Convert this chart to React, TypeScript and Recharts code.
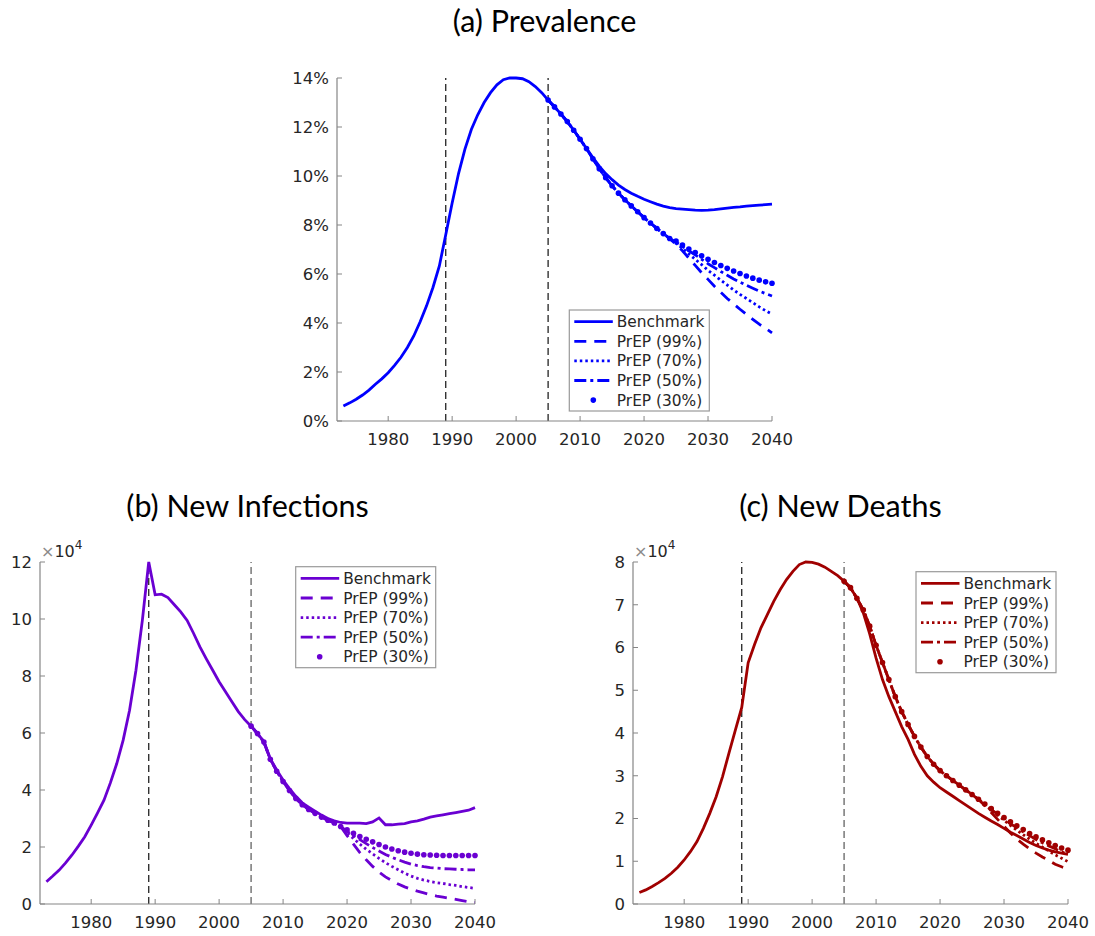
import { LineChart, Line, XAxis, YAxis, ReferenceLine, Customized } from 'recharts'

// one value per year, 1973 ... 2040; PrEP scenarios start in 2005
const FIRST_YEAR = 1973
const PREP_FROM = 2005
const X_TICKS = [1980, 1990, 2000, 2010, 2020, 2030, 2040]
const LEGEND_LABELS = ['Benchmark', 'PrEP (99%)', 'PrEP (70%)', 'PrEP (50%)', 'PrEP (30%)']

// (a) prevalence, %
const PREV_BENCH = [
  0.61, 0.74, 0.89, 1.06, 1.26, 1.5, 1.72, 1.97,
  2.27, 2.6, 3.0, 3.47, 4.05, 4.7, 5.45, 6.33, 7.6, 8.9,
  10.1, 11.1, 11.9, 12.5, 13.0, 13.4, 13.72, 13.93, 14.0, 14.0,
  13.97, 13.85, 13.65, 13.4, 13.1, 12.82, 12.53, 12.22, 11.87, 11.5,
  11.12, 10.75, 10.4, 10.1, 9.85, 9.63, 9.45, 9.3, 9.17, 9.05,
  8.95, 8.85, 8.77, 8.71, 8.67, 8.65, 8.63, 8.61, 8.6, 8.61,
  8.63, 8.66, 8.69, 8.72, 8.74, 8.77, 8.79, 8.81, 8.83, 8.85,
]
const PREV_PREP_SHARED = [ // 2005-2024
  13.1, 12.82, 12.53, 12.22, 11.87, 11.5, 11.12, 10.7, 10.3, 9.93,
  9.6, 9.3, 9.03, 8.78, 8.54, 8.3, 8.08, 7.86, 7.65, 7.45,
]
const PREV_PREP_99 = [...PREV_PREP_SHARED, 7.2, 6.95, 6.65, 6.35, 6.05, 5.78, 5.5, 5.25, 5.0, 4.78, 4.56, 4.35, 4.15, 3.95, 3.78, 3.6]
const PREV_PREP_70 = [...PREV_PREP_SHARED, 7.25, 7.05, 6.82, 6.6, 6.38, 6.15, 5.95, 5.75, 5.55, 5.35, 5.17, 5.0, 4.83, 4.66, 4.5, 4.36]
const PREV_PREP_50 = [...PREV_PREP_SHARED, 7.3, 7.12, 6.95, 6.78, 6.6, 6.42, 6.26, 6.1, 5.95, 5.8, 5.67, 5.54, 5.42, 5.3, 5.2, 5.1]
const PREV_PREP_30 = [...PREV_PREP_SHARED, 7.35, 7.18, 7.02, 6.88, 6.74, 6.6, 6.47, 6.35, 6.23, 6.12, 6.02, 5.92, 5.83, 5.75, 5.68, 5.62]

// (b) new infections, x 10^4
const INF_BENCH = [
  0.78, 0.98, 1.19, 1.44, 1.72, 2.03, 2.36, 2.77,
  3.2, 3.64, 4.25, 4.93, 5.75, 6.8, 8.2, 9.95, 12.0, 10.85,
  10.87, 10.75, 10.5, 10.25, 9.95, 9.5, 9.02, 8.6, 8.2, 7.8,
  7.45, 7.1, 6.75, 6.47, 6.24, 5.98, 5.7, 5.1, 4.7, 4.35,
  4.05, 3.78, 3.55, 3.4, 3.26, 3.12, 3.0, 2.92, 2.86, 2.84,
  2.84, 2.84, 2.82, 2.88, 3.02, 2.78, 2.78, 2.8, 2.82, 2.88,
  2.92, 2.98, 3.05, 3.09, 3.13, 3.17, 3.21, 3.25, 3.29, 3.38,
]
const INF_PREP_SHARED = [ // 2005-2019
  6.24, 5.98, 5.68, 5.08, 4.66, 4.3, 3.98, 3.7, 3.48, 3.32, 3.18, 3.05, 2.94, 2.84, 2.72,
]
const INF_PREP_99 = [...INF_PREP_SHARED, 2.4, 2.1, 1.8, 1.55, 1.32, 1.12, 0.95, 0.82, 0.7, 0.6, 0.52, 0.45, 0.39, 0.33, 0.28, 0.24, 0.2, 0.16, 0.12, 0.08, 0.05]
const INF_PREP_70 = [...INF_PREP_SHARED, 2.5, 2.3, 2.1, 1.92, 1.76, 1.6, 1.45, 1.32, 1.2, 1.08, 0.98, 0.9, 0.84, 0.79, 0.75, 0.72, 0.68, 0.65, 0.61, 0.58, 0.55]
const INF_PREP_50 = [...INF_PREP_SHARED, 2.55, 2.4, 2.26, 2.12, 1.98, 1.86, 1.74, 1.64, 1.55, 1.47, 1.4, 1.35, 1.31, 1.28, 1.26, 1.24, 1.23, 1.22, 1.21, 1.2, 1.2]
const INF_PREP_30 = [...INF_PREP_SHARED, 2.6, 2.48, 2.37, 2.27, 2.18, 2.09, 2.0, 1.93, 1.87, 1.82, 1.78, 1.75, 1.73, 1.72, 1.71, 1.7, 1.7, 1.7, 1.7, 1.7, 1.7]

// (c) new deaths, x 10^4
const DEATH_BENCH = [
  0.27, 0.33, 0.41, 0.5, 0.6, 0.72, 0.86, 1.03,
  1.23, 1.46, 1.77, 2.12, 2.51, 2.98, 3.53, 4.07, 4.6, 5.64,
  6.07, 6.46, 6.77, 7.08, 7.35, 7.59, 7.78, 7.94, 8.0, 7.99,
  7.95, 7.88, 7.78, 7.68, 7.55, 7.39, 7.16, 6.81, 6.32, 5.75,
  5.25, 4.85, 4.5, 4.15, 3.85, 3.5, 3.22, 3.0, 2.85, 2.72,
  2.62, 2.52, 2.42, 2.32, 2.22, 2.12, 2.03, 1.94, 1.86, 1.77,
  1.68, 1.6, 1.52, 1.44, 1.37, 1.31, 1.26, 1.22, 1.19, 1.16,
]
const DEATH_PREP_SHARED = [ // 2005-2026
  7.55, 7.4, 7.15, 6.88, 6.5, 6.05, 5.65, 5.25, 4.85, 4.5, 4.2,
  3.92, 3.67, 3.45, 3.27, 3.12, 3.0, 2.89, 2.78, 2.67, 2.56, 2.45,
]
const DEATH_PREP_99 = [...DEATH_PREP_SHARED, 2.3, 2.14, 1.98, 1.82, 1.66, 1.52, 1.4, 1.29, 1.19, 1.1, 1.02, 0.93, 0.87, 0.82]
const DEATH_PREP_70 = [...DEATH_PREP_SHARED, 2.32, 2.2, 2.08, 1.96, 1.84, 1.73, 1.62, 1.52, 1.42, 1.33, 1.24, 1.15, 1.07, 0.99]
const DEATH_PREP_50 = [...DEATH_PREP_SHARED, 2.33, 2.21, 2.1, 1.99, 1.88, 1.78, 1.69, 1.6, 1.51, 1.43, 1.36, 1.29, 1.22, 1.16]
const DEATH_PREP_30 = [...DEATH_PREP_SHARED, 2.34, 2.23, 2.12, 2.02, 1.92, 1.83, 1.74, 1.65, 1.57, 1.5, 1.43, 1.37, 1.31, 1.26]

const AXIS = '#858585'
const TEXT = '#262626'
const TICK_FONT = { fontFamily: 'DejaVu Sans', fontSize: 16.5, fill: TEXT }
const LINE_W = 2.8

// layout of every panel: plot area offset inside the svg
const M_LEFT = 10
const Y_W = 60
const M_TOP = 40
const M_RIGHT = 30
const X_H = 30
const M_BOTTOM = 10
const PLOT_W = 435

const SERIES = [
  { key: 'bench', dash: undefined as string | undefined, dots: false },
  { key: 'p99', dash: '12 8', dots: false },
  { key: 'p70', dash: '2.5 3', dots: false },
  { key: 'p50', dash: '12 4 3 4', dots: false },
  { key: 'p30', dash: undefined, dots: true },
]

function buildRows(bench: number[], prep: number[][]) {
  return bench.map((v, i) => {
    const year = FIRST_YEAR + i
    const k = year - PREP_FROM
    const row: Record<string, number | undefined> = { year, bench: v }
    SERIES.slice(1).forEach((s, j) => {
      row[s.key] = k >= 0 ? prep[j][k] : undefined
    })
    return row
  })
}

const prevRows = buildRows(PREV_BENCH, [PREV_PREP_99, PREV_PREP_70, PREV_PREP_50, PREV_PREP_30])
const infRows = buildRows(INF_BENCH, [INF_PREP_99, INF_PREP_70, INF_PREP_50, INF_PREP_30])
const deathRows = buildRows(DEATH_BENCH, [DEATH_PREP_99, DEATH_PREP_70, DEATH_PREP_50, DEATH_PREP_30])

function XTick({ x, y, payload }: any) {
  return (
    <g>
      <line x1={x} y1={y} x2={x} y2={y - 5} stroke={AXIS} strokeWidth={1} />
      <text x={x} y={y + 24} textAnchor="middle" {...TICK_FONT}>{payload.value}</text>
    </g>
  )
}

function makeYTick(fmt: (v: number) => string) {
  return ({ x, y, payload }: any) => (
    <g>
      <line x1={x} y1={y} x2={x + 5} y2={y} stroke={AXIS} strokeWidth={1} />
      <text x={x - 8} y={y} dy="0.36em" textAnchor="end" {...TICK_FONT}>{fmt(payload.value)}</text>
    </g>
  )
}

function LegendBox({ x, y, color }: { x: number; y: number; color: string }) {
  const w = 140
  const h = 101
  return (
    <g>
      <rect x={x} y={y} width={w} height={h} fill="#fff" stroke="#9a9a9a" strokeWidth={1.2} />
      {SERIES.map((s, i) => {
        const cy = y + 11.7 + i * 19.6
        return (
          <g key={s.key}>
            {s.dots
              ? <circle cx={x + 24} cy={cy} r={2.8} fill={color} />
              : <line x1={x + 5} y1={cy} x2={x + 43.5} y2={cy} stroke={color} strokeWidth={LINE_W} strokeDasharray={s.dash} />}
            <text x={x + 47.5} y={cy} dy="0.36em" fontFamily="DejaVu Sans" fontSize={15.4} fill={TEXT}>{LEGEND_LABELS[i]}</text>
          </g>
        )
      })}
    </g>
  )
}

function SciLabel() {
  const x = M_LEFT + Y_W + 1
  const y = M_TOP - 5
  return (
    <text x={x} y={y} fontFamily="DejaVu Sans" fontSize={16} fill={TEXT}>
      <tspan fill="#8a8a8a">×</tspan>10<tspan dy={-8} fontSize={12}>4</tspan>
    </text>
  )
}

interface PanelProps {
  plotLeft: number
  plotTop: number
  plotH: number
  rows: Record<string, number | undefined>[]
  yMax: number
  yTicks: number[]
  yFmt: (v: number) => string
  color: string
  line2005: string
  legend: { x: number; y: number }
  sci?: boolean
}

function Panel({ plotLeft, plotTop, plotH, rows, yMax, yTicks, yFmt, color, line2005, legend, sci }: PanelProps) {
  const width = M_LEFT + Y_W + PLOT_W + M_RIGHT
  const height = M_TOP + plotH + X_H + M_BOTTOM
  const YTick = makeYTick(yFmt)
  return (
    <div style={{ position: 'absolute', left: plotLeft - M_LEFT - Y_W, top: plotTop - M_TOP }}>
      <LineChart width={width} height={height} data={rows}
        margin={{ top: M_TOP, right: M_RIGHT, bottom: M_BOTTOM, left: M_LEFT }}>
        <XAxis dataKey="year" type="number" domain={[1972, 2040]} ticks={X_TICKS} interval={0}
          height={X_H} tickSize={0} tickMargin={0} axisLine={{ stroke: AXIS, strokeWidth: 1.2 }} tickLine={false}
          tick={<XTick />} />
        <YAxis type="number" domain={[0, yMax]} ticks={yTicks} interval={0}
          width={Y_W} tickSize={0} tickMargin={0} axisLine={{ stroke: AXIS, strokeWidth: 1.2 }} tickLine={false}
          tick={<YTick />} />

        <ReferenceLine x={1989} stroke="#111" strokeWidth={1.2} strokeDasharray="7 4" />
        <ReferenceLine x={2005} stroke={line2005} strokeWidth={line2005 === '#111' ? 1.2 : 1.6} strokeDasharray="7 4" />

        {SERIES.map(s => s.dots
          ? <Line key={s.key} dataKey={s.key} type="linear" stroke="none" isAnimationActive={false}
              dot={{ r: 2.8, fill: color, stroke: 'none' }} activeDot={false} />
          : <Line key={s.key} dataKey={s.key} type="linear" stroke={color} strokeWidth={LINE_W}
              strokeDasharray={s.dash} dot={false} activeDot={false} isAnimationActive={false} />
        )}

        {sci && <Customized component={<SciLabel />} />}
        <Customized component={<LegendBox x={M_LEFT + Y_W + legend.x} y={M_TOP + legend.y} color={color} />} />
      </LineChart>
    </div>
  )
}

const TITLE_FONT = { fontFamily: 'Lato', fontSize: 30.5, fill: '#000', textAnchor: 'middle' as const }

export default function App() {
  return (
    <div style={{ position: 'absolute', left: 0, top: 0, width: 1095, height: 936, background: '#fff', overflow: 'hidden' }}>
      <svg width={1095} height={936} style={{ position: 'absolute', left: 0, top: 0 }}>
        <text x={544.5} y={32} {...TITLE_FONT}>(a) Prevalence</text>
        <text x={247.5} y={517} {...TITLE_FONT}>(b) New Infections</text>
        <text x={840.5} y={517} {...TITLE_FONT}>(c) New Deaths</text>
      </svg>

      <Panel plotLeft={337} plotTop={78} plotH={343} rows={prevRows} yMax={14}
        yTicks={[0, 2, 4, 6, 8, 10, 12, 14]} yFmt={v => `${v}%`}
        color="#0000ff" line2005="#111" legend={{ x: 232.3, y: 232 }} />

      <Panel plotLeft={40} plotTop={562} plotH={342} rows={infRows} yMax={12}
        yTicks={[0, 2, 4, 6, 8, 10, 12]} yFmt={v => `${v}`}
        color="#6a00d2" line2005="#808080" legend={{ x: 255.7, y: 4.7 }} sci />

      <Panel plotLeft={633} plotTop={562} plotH={342} rows={deathRows} yMax={8}
        yTicks={[0, 1, 2, 3, 4, 5, 6, 7, 8]} yFmt={v => `${v}`}
        color="#a00000" line2005="#808080" legend={{ x: 283, y: 9.7 }} sci />
    </div>
  )
}
